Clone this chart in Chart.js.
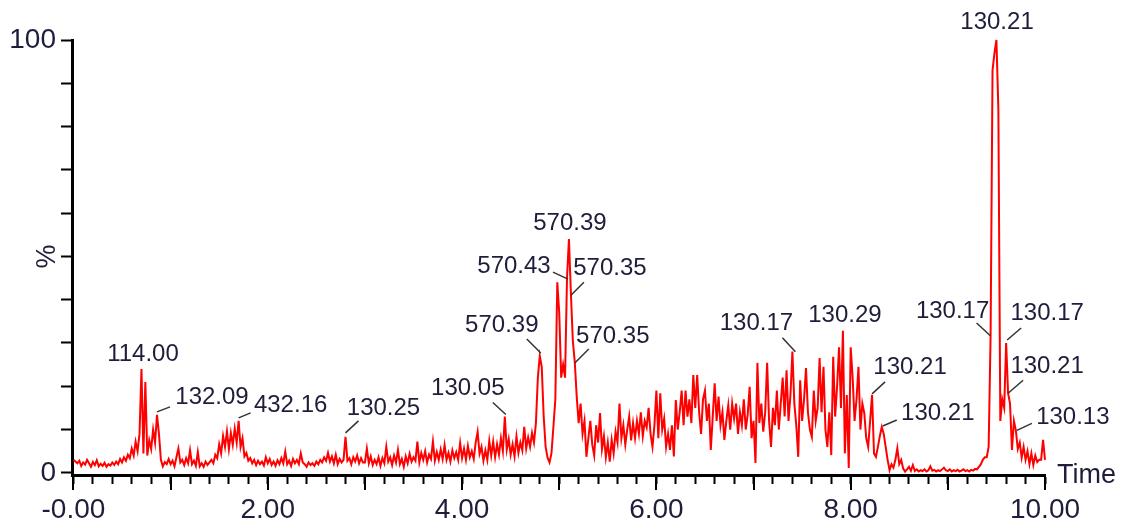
<!DOCTYPE html>
<html>
<head>
<meta charset="utf-8">
<script src="https://cdn.jsdelivr.net/npm/chart.js@4/dist/chart.umd.min.js"></script>
<style>
  html, body { margin: 0; padding: 0; background: #ffffff; }
  #wrap { width: 1124px; height: 519px; }
</style>
</head>
<body>
<div id="wrap"><canvas id="c" width="1124" height="519"></canvas></div>
<script>
// ---- DATA ----
const scanStep = 0.02;           // minutes between scans
const timeStart = 0.0;
// relative intensity (%) per scan, one array per minute
const min0 = [3.0,2.6,2.2,2.8,1.6,2.4,1.9,3.0,2.2,1.4, 2.5,1.8,2.9,1.5,2.1,1.6,2.3,1.4,2.0,1.7, 2.4,1.8,2.6,2.0,3.2,2.4,3.6,2.8,4.2,3.4, 5.6,4.0,7.2,5.0,9.0,24.0,4.5,21.0,4.0,7.5, 5.5,10.0,7.0,13.4,9.0,3.0,1.5,2.5,2.0,3.2];
const min1 = [2.0,2.8,1.5,3.6,5.6,2.4,3.0,1.8,3.4,2.2, 5.2,2.0,2.8,1.6,4.8,1.5,2.2,1.4,2.6,1.8, 2.4,3.0,2.2,4.2,3.4,6.6,4.5,8.5,6.0,9.6, 5.5,9.2,6.5,10.2,7.0,12.0,6.0,8.0,3.8,4.6, 2.8,3.4,2.2,3.0,1.8,2.8,2.0,2.6,1.7,3.6];
const min2 = [2.2,3.2,1.8,2.6,1.6,2.9,2.0,3.4,2.2,4.9, 2.0,2.8,1.6,3.2,2.2,3.0,2.0,4.5,2.4,2.0, 1.4,2.4,1.8,2.2,1.6,2.6,2.0,3.0,2.4,3.6, 2.8,4.6,2.6,3.8,2.2,4.2,2.0,3.2,2.4,3.0, 8.3,2.8,3.4,2.0,3.6,2.6,4.0,2.2,3.4,2.4];
const min3 = [2.4,5.6,2.2,3.8,1.8,3.0,2.0,3.6,1.6,3.4, 2.2,6.0,2.6,3.6,1.8,4.0,2.4,5.3,2.0,3.2, 1.4,3.8,2.2,4.4,2.6,3.6,2.8,7.2,2.4,4.6, 3.0,5.0,2.4,4.2,3.2,7.2,2.8,4.8,3.0,5.4, 3.2,6.4,3.0,4.6,2.6,5.2,3.4,4.8,3.0,6.9];
const min4 = [3.4,5.6,3.0,6.2,3.6,5.0,3.2,7.0,9.5,4.4, 6.0,2.8,5.2,3.0,7.4,4.0,7.2,3.6,6.6,4.2, 8.0,5.0,13.0,5.4,7.8,4.2,6.6,3.8,8.4,4.6, 7.0,5.2,10.6,5.6,8.2,6.0,9.2,7.0,11.5,22.0, 27.0,24.5,13.0,6.0,3.5,2.4,4.5,10.6,17.0,44.0];
const min5 = [37.0,22.0,25.0,22.0,45.0,54.0,41.5,30.5,25.6,17.6, 11.5,16.0,9.0,12.0,3.7,8.0,12.0,6.5,4.0,11.0, 7.0,13.8,5.5,8.5,3.6,7.0,2.6,7.6,4.5,9.5, 7.0,16.0,8.0,11.0,6.5,10.0,13.0,7.5,11.5,8.0, 12.0,9.0,14.0,8.5,12.0,10.5,15.0,9.0,6.0,11.0];
const min6 = [19.0,8.0,18.4,10.0,12.5,6.0,9.0,5.3,11.0,3.8, 16.8,10.0,14.0,19.0,11.0,19.0,13.0,17.0,11.5,22.6, 15.0,22.6,14.0,9.0,17.0,19.0,12.0,16.0,5.3,13.0, 20.7,12.0,17.6,11.0,14.0,7.6,12.0,15.6,10.0,16.0, 12.5,16.0,9.0,14.0,11.0,17.0,10.0,13.5,19.9,8.0];
const min7 = [12.0,2.3,25.4,11.5,16.0,9.5,14.0,25.4,12.0,6.0, 15.0,11.0,19.0,10.0,16.0,22.0,13.0,23.7,12.0,18.0, 28.0,16.0,11.0,3.7,21.4,12.0,17.0,24.2,14.0,10.0, 8.3,19.0,12.0,15.0,26.5,14.0,24.5,10.0,6.0,14.0, 4.1,26.8,13.0,20.0,29.0,15.0,32.8,4.5,18.0,1.1];
const min8 = [29.0,22.0,12.0,17.0,24.5,10.0,16.0,13.8,8.0,6.0, 12.0,18.0,4.5,3.7,6.0,8.5,10.6,9.0,6.0,3.0, 0.6,2.0,1.2,3.0,5.7,2.0,3.0,1.0,0.3,0.8, 1.4,0.5,1.8,0.4,0.8,0.3,0.6,0.4,0.8,0.3, 0.6,1.5,0.5,0.7,0.3,0.6,0.4,0.8,1.2,0.6];
const min9 = [0.4,0.8,0.3,0.6,0.4,0.7,0.3,0.5,0.8,0.4, 0.6,0.3,0.7,0.5,0.9,0.8,1.4,2.0,3.0,3.6, 3.6,6.0,31.6,93.0,97.0,100.0,84.0,12.0,17.0,15.0, 30.0,18.4,16.0,5.3,12.0,9.8,5.5,7.0,3.5,6.0, 3.0,5.0,2.0,4.5,1.8,4.0,2.5,3.0,3.0,7.6];
const min10 = [3.0];

// peak annotations: retention time and m/z text
const peakTimes  = [0.70, 0.86, 1.70, 2.80, 4.44, 4.80, 5.08, 5.10, 5.12, 5.16, 7.40, 7.92, 8.22, 8.32, 9.44, 9.50, 9.60, 9.62, 9.70];
const peakTexts  = ['114.00','132.09','432.16','130.25','130.05','570.39','570.43','570.39','570.35','570.35','130.17','130.29','130.21','130.21','130.17','130.21','130.17','130.21','130.13'];

// axis tick labels
const xTickLabels = {0:'-0.00', 2:'2.00', 4:'4.00', 6:'6.00', 8:'8.00', 10:'10.00'};
const yTickLabels = {0:'0', 100:'100'};

// ---- build series ----
const intensity = [].concat(min0, min1, min2, min3, min4, min5, min6, min7, min8, min9, min10);
const times = intensity.map((_, i) => +(timeStart + i * scanStep).toFixed(2));
const points = times.map((t, i) => ({ x: t, y: intensity[i] }));

function valueAt(t) {
  const i = Math.round((t - timeStart) / scanStep);
  return intensity[i];
}

// label layout (pixel offsets from the peak point): text centre dx,dy ; leader from (ax,ay) to (bx,by)
const labelLayout = [
  [1.5,-15, null],
  [55,-17, [0,-3,13,-8]],
  [52,-16, [0,-3,12,-8]],
  [38,-29, [0,-4,13,-16]],
  [-37,-28, [1,-2,-12,-14]],
  [-38,-31, [1,-3,-13,-17]],
  [-53,-12, [1,1,-14,-6]],
  [1,-16, null],
  [39,-25, [0,2,13,-11]],
  [38,-26, [0,1,14,-13]],
  [-36,-28, [3,0,-10,-14]],
  [2,-15, null],
  [38,-28, [0,-1,13,-13]],
  [56,-14, [1,-1,15,-7]],
  [-38,-25, [0,0,-14,-13]],
  [0.6,-18, null],
  [41,-30, [1,-3,15,-15]],
  [39,-27, [0,0,15,-13]],
  [57,-13, [1,0,16,-7]]
];

const FONT = "'Liberation Sans', Arial, Helvetica, sans-serif";
const TEXT_COLOR = '#1e1e3a';

const extrasPlugin = {
  id: 'extras',
  afterDatasetsDraw(chart) {
    const { ctx, scales: { x, y }, chartArea } = chart;
    ctx.save();
    // major (integer) ticks: longer
    ctx.strokeStyle = '#000';
    ctx.lineWidth = 2;
    for (let i = 0; i <= 10; i++) {
      const px = Math.round(x.getPixelForValue(i));
      ctx.beginPath();
      ctx.moveTo(px, chartArea.bottom);
      ctx.lineTo(px, chartArea.bottom + 15);
      ctx.stroke();
    }
    // peak labels
    ctx.font = '24px ' + FONT;
    ctx.fillStyle = TEXT_COLOR;
    ctx.textAlign = 'center';
    ctx.textBaseline = 'middle';
    ctx.strokeStyle = '#333333';
    ctx.lineWidth = 1.5;
    peakTimes.forEach((t, k) => {
      const px = x.getPixelForValue(t);
      const py = y.getPixelForValue(valueAt(t));
      const lay = labelLayout[k];
      ctx.fillText(peakTexts[k], px + lay[0], py + lay[1]);
      if (lay[2]) {
        const l = lay[2];
        ctx.beginPath();
        ctx.moveTo(px + l[0], py + l[1]);
        ctx.lineTo(px + l[2], py + l[3]);
        ctx.stroke();
      }
    });
    // axis titles
    ctx.font = '27px ' + FONT;
    ctx.fillStyle = TEXT_COLOR;
    ctx.textAlign = 'left';
    ctx.textBaseline = 'middle';
    ctx.fillText('Time', chartArea.right + 12, chartArea.bottom + 1);
    ctx.save();
    ctx.translate(48, y.getPixelForValue(50));
    ctx.rotate(-Math.PI / 2);
    ctx.textAlign = 'center';
    ctx.fillText('%', 0, 0);
    ctx.restore();
    ctx.restore();
  }
};

new Chart(document.getElementById('c'), {
  type: 'line',
  data: {
    datasets: [{
      data: points,
      borderColor: '#ff0000',
      borderWidth: 2,
      pointRadius: 0,
      tension: 0,
      fill: false,
      clip: 6
    }]
  },
  options: {
    responsive: false,
    animation: false,
    devicePixelRatio: 1,
    parsing: true,
    layout: { padding: { top: 40, right: 79, bottom: 0, left: 0 } },
    plugins: { legend: { display: false }, tooltip: { enabled: false } },
    scales: {
      x: {
        type: 'linear',
        min: -0.015,
        max: 10.0,
        afterFit: (s) => { s.height = 44; },
        border: { display: true, color: '#000', width: 3 },
        grid: { drawOnChartArea: false, drawTicks: true, tickLength: 9, tickColor: '#000', tickWidth: 2 },
        ticks: {
          stepSize: 0.2,
          includeBounds: false,
          autoSkip: false,
          maxRotation: 0,
          minRotation: 0,
          padding: 9,
          color: TEXT_COLOR,
          font: { family: FONT, size: 28 },
          callback: (v) => {
            const r = Math.round(v);
            if (Math.abs(v - r) < 1e-6 && xTickLabels[r] !== undefined) return xTickLabels[r];
            return '';
          }
        }
      },
      y: {
        type: 'linear',
        min: -0.5,
        max: 100,
        afterFit: (s) => { s.width = 72; },
        border: { display: true, color: '#000', width: 3 },
        grid: { drawOnChartArea: false, drawTicks: true, tickLength: 11, tickColor: '#000', tickWidth: 2 },
        ticks: {
          stepSize: 10,
          includeBounds: false,
          autoSkip: false,
          padding: 5,
          color: TEXT_COLOR,
          font: { family: FONT, size: 28 },
          callback: (v) => {
            const r = Math.round(v);
            if (Math.abs(v - r) < 1e-6 && yTickLabels[r] !== undefined) return yTickLabels[r];
            return '';
          }
        }
      }
    }
  },
  plugins: [extrasPlugin]
});
</script>
</body>
</html>
